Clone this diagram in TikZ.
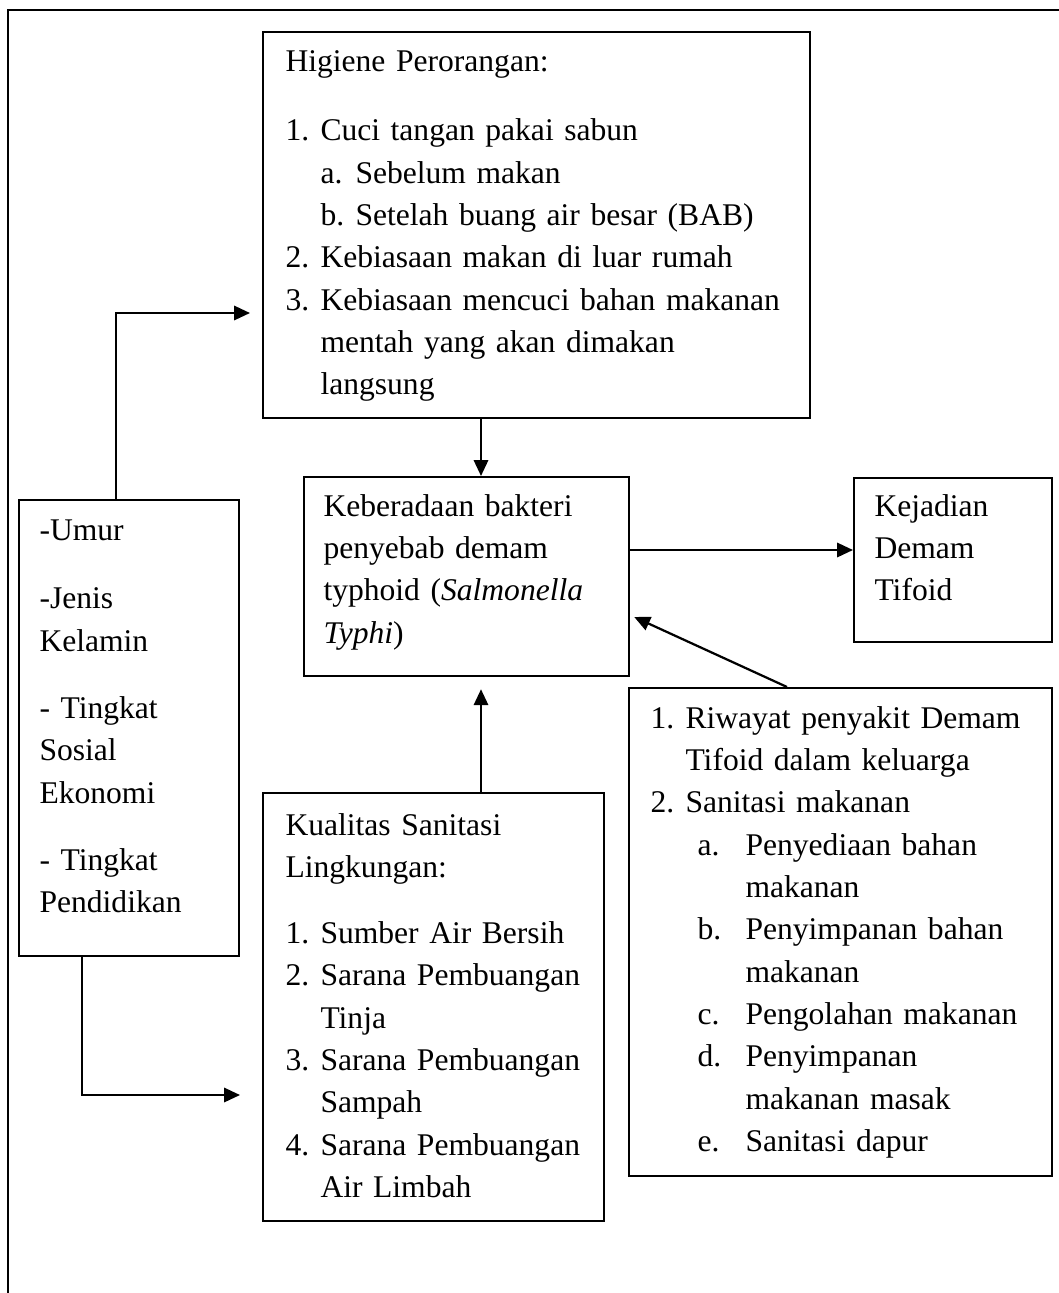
\documentclass[tikz,border=0pt]{standalone}
\usepackage{fontspec}
\setmainfont{Liberation Serif}
\usetikzlibrary{arrows.meta}

\newlength\px
\setlength\px{0.38pt}
\newcommand\num[1]{\makebox[35\px][l]{#1}}

\begin{document}
\begin{tikzpicture}[x=0.38pt,y=-0.38pt,
  box/.style={draw,line width=0.85pt,anchor=north west,inner sep=0pt},
  txt/.style={anchor=base west,inner sep=0pt,align=left,text width=620\px,
    font=\fontsize{12}{16.1}\selectfont},
  arr/.style={line width=0.85pt,-{Triangle[length=6pt,width=5.4pt]}}]
\useasboundingbox (0,0) rectangle (1059,1293);
\draw[line width=0.85pt] (8,1293) -- (8,10) -- (1059,10);

\node[box,minimum width=547\px,minimum height=386\px] (hig) at (262,31) {};
\node[box,minimum width=325\px,minimum height=199\px] (kebe) at (303,476) {};
\node[box,minimum width=198\px,minimum height=164\px] (keja) at (853,477) {};
\node[box,minimum width=220\px,minimum height=456\px] (fak) at (18,499) {};
\node[box,minimum width=341\px,minimum height=428\px] (kual) at (262,792) {};
\node[box,minimum width=423\px,minimum height=488\px] (riw) at (628,687) {};

\node[txt] (hig-t) at (285,72) {Higiene Perorangan:\\[10pt]
  \num{1.}Cuci tangan pakai sabun\\
  \hspace*{35\px}\num{a.}Sebelum makan\\
  \hspace*{35\px}\num{b.}Setelah buang air besar (BAB)\\
  \num{2.}Kebiasaan makan di luar rumah\\
  \num{3.}Kebiasaan mencuci bahan makanan\\
  \hspace*{35\px}mentah yang akan dimakan\\
  \hspace*{35\px}langsung};
\node[txt] (kebe-t) at (323,516) {Keberadaan bakteri\\penyebab demam\\
  typhoid (\textit{Salmonella}\\\textit{Typhi})};
\node[txt] (keja-t) at (874,516) {Kejadian\\Demam\\Tifoid};
\node[txt] (fak-t) at (39,540) {-Umur\\[10pt]-Jenis\\Kelamin\\[9.5pt]
  - Tingkat\\Sosial\\Ekonomi\\[9.5pt]- Tingkat\\Pendidikan};
\node[txt] (kual-t) at (285,835) {Kualitas Sanitasi\\Lingkungan:\\[9pt]
  \num{1.}Sumber Air Bersih\\
  \num{2.}Sarana Pembuangan\\\hspace*{35\px}Tinja\\
  \num{3.}Sarana Pembuangan\\\hspace*{35\px}Sampah\\
  \num{4.}Sarana Pembuangan\\\hspace*{35\px}Air Limbah};
\node[txt] (riw-t) at (650,728) {\num{1.}Riwayat penyakit Demam\\
  \hspace*{35\px}Tifoid dalam keluarga\\
  \num{2.}Sanitasi makanan\\
  \hspace*{47\px}\makebox[48\px][l]{a.}Penyediaan bahan\\\hspace*{95\px}makanan\\
  \hspace*{47\px}\makebox[48\px][l]{b.}Penyimpanan bahan\\\hspace*{95\px}makanan\\
  \hspace*{47\px}\makebox[48\px][l]{c.}Pengolahan makanan\\
  \hspace*{47\px}\makebox[48\px][l]{d.}Penyimpanan\\\hspace*{95\px}makanan masak\\
  \hspace*{47\px}\makebox[48\px][l]{e.}Sanitasi dapur};

\coordinate (mid) at (481,0);
\coordinate (up) at (116,313);
\coordinate (down) at (82,1095);
\coordinate (ar) at (0,550);
\coordinate (diag) at (787,617);

\draw[arr] (hig.south -| mid) -- (kebe.north -| mid);
\draw[arr] (kebe.east |- ar) -- (keja.west |- ar);
\draw[arr] (kual.north -| mid) -- ([yshift=-12\px]kebe.south -| mid);
\draw[arr] (riw.north -| diag) -- ([xshift=4\px]kebe.east |- diag);
\draw[arr] (fak.north -| up) |- ([xshift=-12\px]hig.west |- up);
\draw[arr] (fak.south -| down) |- ([xshift=-22\px]kual.west |- down);
\end{tikzpicture}
\end{document}
